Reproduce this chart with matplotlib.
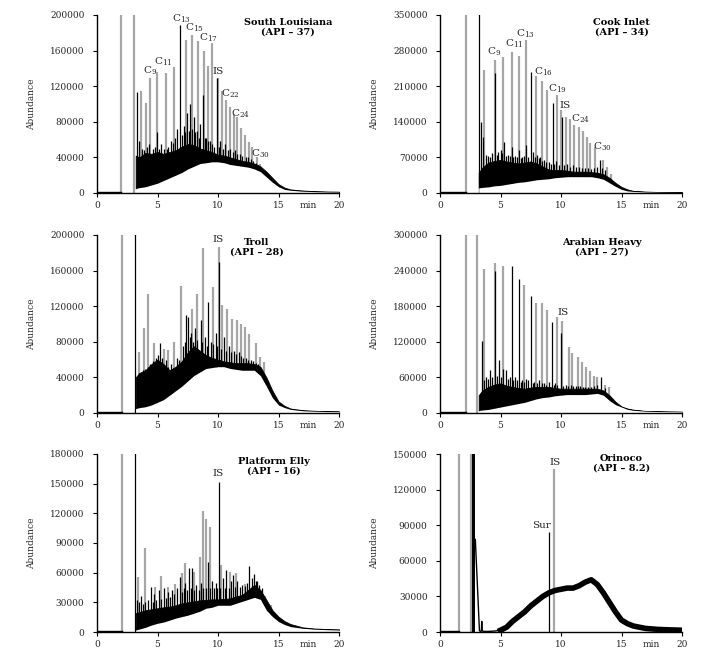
import matplotlib
matplotlib.use("Agg")
import matplotlib.pyplot as plt
from matplotlib.ticker import FormatStrFormatter

plt.rcParams['font.family'] = ['DejaVu Serif']
plt.rcParams['mathtext.default'] = 'regular'

# ---------------- data ----------------
env_t = [3.2, 3.5, 4.0, 4.5, 5.0, 5.5, 6.0, 6.5, 7.0, 7.5, 8.0, 8.5, 9.0, 9.5, 10.0, 10.5,
         11.0, 11.5, 12.0, 12.5, 13.0, 13.5, 14.0, 14.5, 15.0, 15.5, 16.0, 17.0, 18.0, 19.0, 20.0]

# South Louisiana
sl_gray_t = [2.0, 3.06, 3.6, 4.08, 4.35, 4.93, 5.73, 6.34, 7.38, 7.88, 8.35, 8.82, 9.17, 9.48,
             10.0, 10.36, 10.7, 11.0, 11.3, 11.6, 11.9, 12.25, 12.56, 12.8, 13.2, 13.5]
sl_gray_h = [1e6, 1e6, 115e3, 101e3, 129e3, 136e3, 135e3, 142e3, 172e3, 177e3, 171e3, 160e3, 143e3, 168e3,
             129e3, 115e3, 105e3, 97e3, 89e3, 85e3, 73e3, 65e3, 57e3, 52e3, 40e3, 33e3]
sl_black_t = [3.28, 3.5, 3.7, 3.9, 4.1, 4.3, 4.6, 4.8, 4.95, 5.1, 5.3, 5.5, 5.75, 5.9, 6.1, 6.3, 6.45, 6.65,
              6.9, 7.05, 7.15, 7.3, 7.45, 7.6, 7.7, 7.85, 8.0, 8.1, 8.25, 8.4, 8.55, 8.75, 8.9, 9.0, 9.15,
              9.3, 9.5, 9.7, 9.92, 10.1, 10.2, 10.4, 10.6, 10.8, 11.0, 11.2, 11.4, 11.6, 11.8, 12.0, 12.3,
              12.5, 12.7, 12.9, 13.1, 13.3]
sl_black_h = [113e3, 58e3, 50e3, 48e3, 52e3, 55e3, 50e3, 52e3, 68e3, 50e3, 55e3, 50e3, 50e3, 52e3, 58e3, 56e3,
              62e3, 72e3, 189e3, 65e3, 75e3, 68e3, 90e3, 70e3, 100e3, 72e3, 85e3, 68e3, 70e3, 62e3, 78e3, 110e3,
              62e3, 62e3, 58e3, 58e3, 55e3, 52e3, 129e3, 52e3, 58e3, 50e3, 55e3, 48e3, 50e3, 46e3, 48e3, 44e3,
              44e3, 42e3, 40e3, 40e3, 38e3, 36e3, 34e3, 32e3]
sl_lo = [5e3, 6e3, 7e3, 9e3, 11e3, 14e3, 17e3, 20e3, 23e3, 27e3, 30e3, 33e3, 34e3, 35e3, 35e3, 34e3,
         32e3, 31e3, 30e3, 29e3, 27e3, 24e3, 18e3, 12e3, 7e3, 4e3, 3e3, 2e3, 1.5e3, 1.2e3, 1e3]
sl_hi = [42e3, 40e3, 45e3, 44e3, 46e3, 44e3, 46e3, 48e3, 52e3, 55e3, 54e3, 50e3, 48e3, 46e3, 43e3, 42e3,
         40e3, 38e3, 36e3, 35e3, 33e3, 30e3, 24e3, 17e3, 10e3, 6e3, 4e3, 2.8e3, 2e3, 1.7e3, 1.5e3]
sl_lab = ['C$_{9}$', 'C$_{11}$', 'C$_{13}$', 'C$_{15}$', 'C$_{17}$', 'IS', 'C$_{22}$', 'C$_{24}$', 'C$_{30}$']
sl_lab_t = [4.35, 5.45, 6.97, 8.07, 9.17, 10.0, 11.0, 11.85, 13.5]
sl_lab_v = [137e3, 147e3, 196e3, 186e3, 175e3, 137e3, 111e3, 89e3, 44e3]

# Cook Inlet
ci_gray_t = [2.15, 3.64, 4.52, 5.24, 5.93, 6.54, 7.09, 7.92, 8.41, 8.88, 9.66, 10.0, 10.4, 10.76,
             11.09, 11.45, 11.78, 12.14, 12.41, 12.77, 13.46, 13.8, 14.1]
ci_gray_h = [1e6, 241e3, 261e3, 267e3, 277e3, 269e3, 301e3, 231e3, 221e3, 203e3, 192e3, 163e3, 149e3, 146e3,
             133e3, 130e3, 121e3, 110e3, 98e3, 90e3, 64e3, 51e3, 38e3]
ci_black_t = [3.2, 3.35, 3.55, 3.8, 4.0, 4.1, 4.3, 4.52, 4.7, 4.8, 5.0, 5.15, 5.3, 5.45, 5.6, 5.8, 5.93, 6.05,
              6.2, 6.35, 6.54, 6.7, 6.8, 6.95, 7.1, 7.3, 7.5, 7.7, 7.85, 8.0, 8.15, 8.3, 8.45, 8.6, 8.8, 9.0,
              9.15, 9.3, 9.45, 9.6, 9.8, 10.05, 10.25, 10.5, 10.75, 11.0, 11.25, 11.5, 11.75, 12.0, 12.25,
              12.5, 12.75, 13.0, 13.24, 13.4, 13.6]
ci_black_h = [1e6, 140e3, 110e3, 75e3, 72e3, 70e3, 78e3, 235e3, 75e3, 80e3, 85e3, 78e3, 100e3, 72e3, 75e3, 72e3,
              90e3, 70e3, 72e3, 70e3, 85e3, 68e3, 70e3, 72e3, 95e3, 70e3, 238e3, 80e3, 70e3, 75e3, 68e3, 70e3,
              62e3, 65e3, 60e3, 60e3, 58e3, 176e3, 58e3, 62e3, 55e3, 149e3, 55e3, 58e3, 52e3, 55e3, 52e3, 52e3,
              50e3, 50e3, 50e3, 48e3, 50e3, 52e3, 65e3, 50e3, 45e3]
ci_lo = [10e3, 11e3, 12e3, 14e3, 15e3, 17e3, 19e3, 21e3, 22e3, 24e3, 26e3, 27e3, 28e3, 30e3, 31e3, 32e3,
         32e3, 32e3, 32e3, 32e3, 30e3, 27e3, 20e3, 13e3, 7e3, 4e3, 3e3, 2e3, 1.5e3, 1.2e3, 1e3]
ci_hi = [40e3, 50e3, 60e3, 63e3, 65e3, 62e3, 60e3, 58e3, 60e3, 62e3, 58e3, 52e3, 46e3, 45e3, 45e3, 44e3,
         42e3, 42e3, 42e3, 41e3, 40e3, 37e3, 30e3, 20e3, 12e3, 7e3, 4e3, 2.8e3, 2e3, 1.7e3, 1.5e3]
ci_lab = ['C$_{9}$', 'C$_{11}$', 'C$_{13}$', 'C$_{16}$', 'C$_{19}$', 'IS', 'C$_{24}$', 'C$_{30}$']
ci_lab_t = [4.47, 6.12, 7.09, 8.55, 9.71, 10.34, 11.59, 13.38]
ci_lab_v = [277e3, 294e3, 313e3, 239e3, 205e3, 172e3, 146e3, 90e3]

# Troll
tr_gray_t = [2.09, 3.47, 3.86, 4.19, 4.68, 5.54, 5.87, 6.36, 6.91, 7.88, 8.26, 8.76, 9.59, 10.06,
             10.36, 10.74, 11.18, 11.57, 11.93, 12.2, 12.6, 13.1, 13.44, 13.8]
tr_gray_h = [1e6, 69e3, 95e3, 134e3, 79e3, 72e3, 71e3, 80e3, 143e3, 117e3, 134e3, 185e3, 142e3, 187e3,
             121e3, 117e3, 106e3, 105e3, 100e3, 97e3, 89e3, 79e3, 63e3, 57e3]
tr_black_t = [3.14, 3.3, 3.45, 3.6, 3.8, 4.0, 4.2, 4.4, 4.6, 4.9, 5.05, 5.23, 5.4, 5.7, 5.9, 6.1, 6.3, 6.6,
              6.8, 7.1, 7.25, 7.38, 7.52, 7.65, 7.8, 7.95, 8.1, 8.3, 8.57, 8.7, 8.9, 9.05, 9.17, 9.4, 9.6,
              9.8, 9.95, 10.06, 10.25, 10.5, 10.7, 10.9, 11.1, 11.3, 11.5, 11.7, 11.9, 12.1, 12.3, 12.5,
              12.7, 12.9, 13.1, 13.3]
tr_black_h = [1e6, 42e3, 45e3, 45e3, 48e3, 50e3, 52e3, 55e3, 58e3, 62e3, 65e3, 79e3, 62e3, 60e3, 52e3, 55e3,
              50e3, 62e3, 60e3, 75e3, 80e3, 110e3, 108e3, 85e3, 90e3, 80e3, 95e3, 82e3, 105e3, 80e3, 85e3,
              75e3, 125e3, 80e3, 78e3, 90e3, 75e3, 170e3, 72e3, 85e3, 70e3, 75e3, 68e3, 70e3, 66e3, 68e3,
              64e3, 62e3, 62e3, 60e3, 60e3, 58e3, 56e3, 55e3]
tr_lo = [5e3, 6e3, 7e3, 9e3, 12e3, 15e3, 20e3, 25e3, 30e3, 36e3, 42e3, 46e3, 50e3, 51e3, 52e3, 52e3,
         50e3, 49e3, 48e3, 48e3, 48e3, 42e3, 30e3, 17e3, 9e3, 6e3, 4e3, 2.5e3, 2e3, 1.6e3, 1.5e3]
tr_hi = [40e3, 45e3, 48e3, 55e3, 60e3, 55e3, 48e3, 52e3, 58e3, 68e3, 75e3, 70e3, 65e3, 62e3, 60e3, 58e3,
         57e3, 56e3, 56e3, 56e3, 55e3, 52e3, 40e3, 25e3, 13e3, 8e3, 5e3, 3.2e3, 2.5e3, 2e3, 1.8e3]
tr_lab = ['IS']
tr_lab_t = [10.0]
tr_lab_v = [195e3]

# Arabian Heavy
ah_gray_t = [2.15, 3.09, 3.67, 4.52, 5.19, 6.98, 7.92, 8.41, 8.83, 9.66, 10.12, 10.62, 10.95, 11.37,
             11.7, 12.03, 12.36, 12.69, 12.97, 13.6, 13.93]
ah_gray_h = [1e6, 1e6, 242e3, 252e3, 247e3, 215e3, 185e3, 185e3, 173e3, 162e3, 155e3, 112e3, 101e3, 94e3,
             86e3, 78e3, 71e3, 63e3, 60e3, 47e3, 44e3]
ah_black_t = [3.48, 3.65, 3.8, 3.95, 4.1, 4.3, 4.52, 4.7, 4.9, 5.05, 5.2, 5.43, 5.6, 5.75, 5.93, 6.05, 6.2,
              6.35, 6.54, 6.7, 6.8, 6.95, 7.1, 7.3, 7.5, 7.65, 7.8, 8.0, 8.2, 8.4, 8.6, 8.8, 9.0, 9.24, 9.4,
              9.5, 9.7, 10.0, 10.2, 10.4, 10.6, 10.8, 11.0, 11.2, 11.4, 11.6, 11.8, 12.0, 12.25, 12.5,
              12.75, 13.0, 13.3, 13.6]
ah_black_h = [122e3, 55e3, 60e3, 58e3, 72e3, 60e3, 240e3, 62e3, 90e3, 60e3, 75e3, 73e3, 58e3, 60e3, 247e3,
              55e3, 60e3, 55e3, 226e3, 52e3, 55e3, 52e3, 58e3, 55e3, 197e3, 50e3, 52e3, 50e3, 55e3, 50e3,
              50e3, 48e3, 52e3, 154e3, 48e3, 50e3, 48e3, 135e3, 46e3, 48e3, 46e3, 47e3, 46e3, 46e3, 45e3,
              45e3, 44e3, 44e3, 44e3, 44e3, 45e3, 48e3, 60e3, 42e3]
ah_lo = [4e3, 5e3, 6e3, 8e3, 10e3, 12e3, 14e3, 16e3, 18e3, 21e3, 24e3, 26e3, 27e3, 29e3, 30e3, 31e3,
         31e3, 31e3, 31e3, 32e3, 33e3, 30e3, 21e3, 14e3, 10e3, 6e3, 4.5e3, 3e3, 2.5e3, 2.2e3, 2e3]
ah_hi = [30e3, 38e3, 44e3, 48e3, 50e3, 46e3, 44e3, 42e3, 41e3, 43e3, 44e3, 44e3, 44e3, 42e3, 41e3, 41e3,
         41e3, 41e3, 41e3, 41e3, 41e3, 38e3, 30e3, 19e3, 11e3, 7.5e3, 5.6e3, 3.5e3, 2.8e3, 2.4e3, 2.2e3]
ah_lab = ['IS']
ah_lab_t = [10.2]
ah_lab_v = [170e3]

# Platform Elly
pe_gray_t = [2.09, 3.39, 3.94, 4.77, 5.32, 5.87, 6.42, 7.0, 7.3, 8.0, 8.49, 8.73, 9.04, 9.31,
             10.27, 10.96, 11.5, 12.2, 13.3, 13.85, 14.4]
pe_gray_h = [1e6, 56e3, 85e3, 46e3, 57e3, 46e3, 49e3, 60e3, 70e3, 61e3, 76e3, 122e3, 114e3, 106e3,
             68e3, 61e3, 60e3, 49e3, 41e3, 36e3, 27e3]
pe_black_t = [3.14, 3.3, 3.45, 3.6, 3.8, 4.0, 4.2, 4.44, 4.6, 4.7, 4.9, 5.1, 5.3, 5.5, 5.7, 5.9, 6.05, 6.2,
              6.4, 6.6, 6.83, 7.0, 7.15, 7.3, 7.45, 7.6, 7.75, 7.85, 8.0, 8.2, 8.4, 8.6, 8.8, 9.0, 9.17,
              9.35, 9.5, 9.65, 9.8, 9.95, 10.06, 10.2, 10.4, 10.55, 10.7, 10.9, 11.05, 11.2, 11.4, 11.6,
              11.8, 12.0, 12.2, 12.4, 12.6, 12.8, 12.95, 13.1, 13.2, 13.4, 13.6]
pe_black_h = [1e6, 32e3, 30e3, 36e3, 28e3, 30e3, 32e3, 46e3, 30e3, 38e3, 32e3, 42e3, 33e3, 45e3, 34e3, 40e3,
              35e3, 42e3, 38e3, 45e3, 56e3, 40e3, 45e3, 50e3, 42e3, 65e3, 45e3, 65e3, 42e3, 48e3, 42e3, 50e3,
              45e3, 44e3, 71e3, 45e3, 52e3, 44e3, 50e3, 45e3, 152e3, 45e3, 55e3, 45e3, 63e3, 45e3, 52e3,
              58e3, 46e3, 52e3, 46e3, 48e3, 47e3, 50e3, 67e3, 55e3, 59e3, 52e3, 52e3, 48e3, 44e3]
pe_lo = [2e3, 3e3, 4.7e3, 7e3, 8.8e3, 10e3, 12e3, 14e3, 15.5e3, 17e3, 19e3, 21e3, 24e3, 25e3, 27e3, 27e3,
         27e3, 29e3, 31e3, 33e3, 35e3, 33e3, 22e3, 15.5e3, 10.5e3, 7.5e3, 5.4e3, 3.7e3, 2.8e3, 2.3e3, 2e3]
pe_hi = [19e3, 20e3, 22e3, 23e3, 24e3, 25e3, 25.7e3, 27e3, 29e3, 30e3, 31e3, 32e3, 32.5e3, 33e3, 33e3, 33.5e3,
         34e3, 36e3, 37.5e3, 42.6e3, 47.7e3, 42.6e3, 32.5e3, 22e3, 15.5e3, 11e3, 8e3, 4.7e3, 3.5e3, 3e3, 2.7e3]
pe_lab = ['IS']
pe_lab_t = [10.0]
pe_lab_v = [160e3]

# Orinoco
or_gray_t = [1.57, 2.58, 9.46]
or_gray_h = [1e6, 1e6, 137e3]
or_black_t = [8.97]
or_black_h = [84e3]
or_block_t = [2.62, 2.92]
or_tail_t = [2.92, 3.26, 3.35, 3.42, 3.45, 3.48, 3.6, 4.0, 4.5, 5.0]
or_tail_v = [78e3, 1e3, 0.5e3, 1e3, 9e3, 1e3, 0.5e3, 0.5e3, 0.8e3, 1.5e3]
or_hump_t = [5.0, 5.5, 6.0, 6.5, 7.0, 7.5, 8.0, 8.5, 9.0, 9.5, 10.0, 10.5, 11.0, 11.5, 12.0, 12.5,
             13.0, 13.5, 14.0, 14.5, 15.0, 15.5, 16.0, 17.0, 18.0, 19.0, 20.0]
or_hump_v = [1.5e3, 4e3, 9e3, 13e3, 17e3, 22e3, 26e3, 30e3, 33e3, 35e3, 36e3, 37e3, 37e3, 39e3, 42e3, 44e3,
             40e3, 33e3, 25e3, 17e3, 10e3, 7e3, 5e3, 3e3, 2.2e3, 1.8e3, 1.5e3]
or_lab = ['Sur', 'IS']
or_lab_t = [8.41, 9.52]
or_lab_v = [90e3, 143e3]

titles = ['South Louisiana\n(API – 37)', 'Cook Inlet\n(API – 34)', 'Troll\n(API – 28)',
          'Arabian Heavy\n(API – 27)', 'Platform Elly\n(API – 16)', 'Orinoco\n(API – 8.2)']
title_pos = [(0.79, 0.985), (0.75, 0.985), (0.66, 0.985), (0.67, 0.985), (0.73, 0.985), (0.75, 1.0)]
ymax = [200000, 350000, 200000, 300000, 180000, 150000]
ystep = [40000, 70000, 40000, 60000, 30000, 30000]
x_ticks = [0, 5, 10, 15, 20]
base_v = [1e3, 1e3, 1e3, 1e3, 1e3, 0.8e3]
base_end = [2.0, 2.15, 2.09, 2.15, 2.09, 1.57]

# ---------------- figure ----------------
fig = plt.figure(figsize=(7.15, 6.56), dpi=100)
lefts = [97 / 715, 440 / 715]
bottoms = [1 - 193 / 656, 1 - 413 / 656, 1 - 632 / 656]
w = 242 / 715
h = 178 / 656

GRAY = '#a6a6a6'
TXT = '#262626'

panels = [
    (sl_gray_t, sl_gray_h, sl_black_t, sl_black_h, sl_lo, sl_hi, sl_lab, sl_lab_t, sl_lab_v),
    (ci_gray_t, ci_gray_h, ci_black_t, ci_black_h, ci_lo, ci_hi, ci_lab, ci_lab_t, ci_lab_v),
    (tr_gray_t, tr_gray_h, tr_black_t, tr_black_h, tr_lo, tr_hi, tr_lab, tr_lab_t, tr_lab_v),
    (ah_gray_t, ah_gray_h, ah_black_t, ah_black_h, ah_lo, ah_hi, ah_lab, ah_lab_t, ah_lab_v),
    (pe_gray_t, pe_gray_h, pe_black_t, pe_black_h, pe_lo, pe_hi, pe_lab, pe_lab_t, pe_lab_v),
    (or_gray_t, or_gray_h, or_black_t, or_black_h, None, None, or_lab, or_lab_t, or_lab_v),
]

for i, p in enumerate(panels):
    gt, gh, bt, bh, lo, hi, lab, lab_t, lab_v = p
    r, c = divmod(i, 2)
    ax = fig.add_axes([lefts[c], bottoms[r], w, h])
    ax.set_xlim(0, 20)
    ax.set_ylim(0, ymax[i])

    # baseline before the solvent peak
    ax.plot([0, base_end[i]], [base_v[i], base_v[i]], color='black', lw=1.0, zorder=2)
    # gray peaks (behind), black peaks, then the unresolved hump band on top
    ax.vlines(gt, 0, gh, colors=GRAY, lw=1.6, zorder=1)
    ax.vlines(bt, 0, bh, colors='black', lw=0.9, zorder=1.5)
    if lo is not None:
        ax.fill_between(env_t, lo, hi, color='black', lw=0.6, zorder=2)
        # blank area below the hump (peaks start from the hump baseline)
        ax.fill_between(env_t, 0, lo, color='white', lw=0, zorder=2.1)
    else:
        ax.fill_between(or_block_t, 0, ymax[i], color='black', lw=0, zorder=2)
        ax.plot(or_tail_t, or_tail_v, color='black', lw=1.0, zorder=2)
        ax.plot(or_hump_t, or_hump_v, color='black', lw=4.0, zorder=2, solid_joinstyle='round')

    for s, tx, ty in zip(lab, lab_t, lab_v):
        ax.text(tx, ty, s, ha='center', va='center', fontsize=7.5, color=TXT, zorder=5)

    ax.text(title_pos[i][0], title_pos[i][1], titles[i], transform=ax.transAxes,
            ha='center', va='top', fontsize=7, fontweight='bold', color='black',
            linespacing=1.1, zorder=6)

    # axes style
    for sp in ['top', 'right']:
        ax.spines[sp].set_visible(False)
    for sp in ['left', 'bottom']:
        ax.spines[sp].set_linewidth(1.0)
        ax.spines[sp].set_color('black')
        ax.spines[sp].set_zorder(3)
    ax.set_yticks(list(range(0, ymax[i] + 1, ystep[i])))
    ax.yaxis.set_major_formatter(FormatStrFormatter('%d'))
    ax.set_xticks(x_ticks)
    ax.tick_params(axis='both', direction='out', length=3, width=0.8, labelsize=6.5,
                   colors='black', labelcolor=TXT)
    ax.tick_params(axis='y', pad=6)
    ax.tick_params(axis='x', pad=3)
    ax.set_ylabel('Abundance', fontsize=6.5, color=TXT, labelpad=10)
    ax.text(17.5, -0.047, 'min', transform=ax.get_xaxis_transform(), ha='center', va='top',
            fontsize=6.5, color=TXT)

fig.savefig('out.png', dpi=100)
